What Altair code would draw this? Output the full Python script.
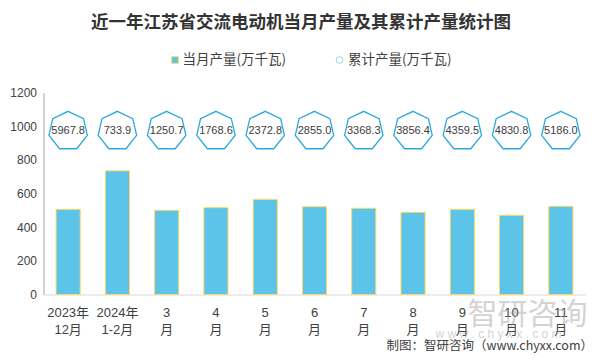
import altair as alt
import pandas as pd

# ---- data ----
categories = ["2023年|12月", "2024年|1-2月", "3|月", "4|月", "5|月", "6|月",
              "7|月", "8|月", "9|月", "10|月", "11|月"]
monthly = [506.0, 734.5, 500.2, 516.0, 565.0, 521.5, 512.5, 488.0, 506.0, 470.5, 524.0]
cumulative = [5967.8, 733.9, 1250.7, 1768.6, 2372.8, 2855.0, 3368.3, 3856.4,
              4359.5, 4830.8, 5186.0]
legend_labels = ["当月产量(万千瓦)", "累计产量(万千瓦)"]
title_text = ["近一年江苏省交流电动机当月产量及其累计产量统计图"]
footer_text = ["制图：智研咨询（www.chyxx.com）"]
watermark_big = ["智研咨询"]
watermark_small = ["w w w . c h y x x . c o m"]
y_ticks = [0, 200, 400, 600, 800, 1000, 1200]

FONT = "Liberation Sans, Noto Sans CJK SC"
CJK = "Noto Sans CJK SC"
TXT = "#404040"
BAR = "#5BC4E8"
BAR_EDGE = "#FFD966"
HEPT_COLOR = "#2AA8E0"

# heptagon with a vertex on top, in unit coordinates
HEPT = ("M0,-1 L0.7818,-0.6235 L0.9749,0.2225 L0.4339,0.901 "
        "L-0.4339,0.901 L-0.9749,0.2225 L-0.7818,-0.6235 Z")

df = pd.DataFrame({"month": categories, "monthly": monthly, "cumulative": cumulative})

x_enc = alt.X(
    "month:N", sort=categories,
    scale=alt.Scale(paddingInner=0.51, paddingOuter=0.255),
    axis=alt.Axis(title=None, labelExpr="split(datum.label, '|')", labelAngle=0,
                  ticks=False, domainColor="#D9D9D9", domainWidth=1,
                  labelFont=FONT, labelFontSize=13, labelColor=TXT,
                  labelLineHeight=17, labelPadding=12, labelBaseline="top"),
)

base = alt.Chart(df)

bars = base.mark_bar(color=BAR, stroke=BAR_EDGE, strokeWidth=1).encode(
    x=x_enc,
    y=alt.Y("monthly:Q", scale=alt.Scale(domain=[0, 1200], nice=False),
            axis=alt.Axis(title=None, values=y_ticks, format="d", grid=False, ticks=False,
                          domainColor="#A6A6A6", labelFont=FONT, labelFontSize=12,
                          labelColor=TXT, labelPadding=7)),
)

hepts = base.mark_point(shape=HEPT, size=1552, filled=False, stroke=HEPT_COLOR,
                        strokeWidth=1.3, opacity=1).encode(
    x=alt.X("month:N", sort=categories),
    y=alt.value(38.5),
)

hept_text = base.mark_text(font=FONT, fontSize=11, color=TXT, baseline="middle").encode(
    x=alt.X("month:N", sort=categories),
    y=alt.value(38),
    text=alt.Text("cumulative:Q", format=".1f"),
)

# ---- legend (manual) ----
leg1 = pd.DataFrame({"label": [legend_labels[0]]})
leg2 = pd.DataFrame({"label": [legend_labels[1]]})
leg_sq = alt.Chart(leg1).mark_point(shape="square", filled=True, size=45, fill=BAR,
                                    stroke=BAR_EDGE, strokeWidth=1, opacity=1).encode(
    x=alt.value(131.5), y=alt.value(-32.5))
leg_sq_t = alt.Chart(leg1).mark_text(font=CJK, fontSize=13.5, color=TXT, align="left",
                                     baseline="middle").encode(
    x=alt.value(139), y=alt.value(-32.5), text="label:N")
leg_ci = alt.Chart(leg2).mark_point(shape="circle", filled=False, size=45,
                                    stroke="#9BD6EE", strokeWidth=1, opacity=1).encode(
    x=alt.value(296), y=alt.value(-32.5))
leg_ci_t = alt.Chart(leg2).mark_text(font=CJK, fontSize=13.5, color=TXT, align="left",
                                     baseline="middle").encode(
    x=alt.value(304.5), y=alt.value(-32.5), text="label:N")

# ---- title / footer / watermark ----
title = alt.Chart(pd.DataFrame({"t": title_text})).mark_text(
    font=CJK, fontSize=17.5, fontWeight="bold", color="#333333", baseline="middle"
).encode(x=alt.value(257.5), y=alt.value(-69.5), text="t:N")

footer = alt.Chart(pd.DataFrame({"t": footer_text})).mark_text(
    font=CJK, fontSize=12.5, color=TXT, align="right", baseline="middle"
).encode(x=alt.value(549.5), y=alt.value(253.5), text="t:N")

wm_big = alt.Chart(pd.DataFrame({"t": watermark_big})).mark_text(
    font=CJK, fontSize=30, color="#A0A0A0", opacity=0.45, align="left", baseline="middle"
).encode(x=alt.value(424), y=alt.value(222), text="t:N")

wm_small = alt.Chart(pd.DataFrame({"t": watermark_small})).mark_text(
    font=FONT, fontSize=12, color="#A0A0A0", opacity=0.45, align="left", baseline="middle"
).encode(x=alt.value(392), y=alt.value(241), text="t:N")

chart = alt.layer(
    bars, hepts, hept_text, leg_sq, leg_sq_t, leg_ci, leg_ci_t,
    title, wm_big, wm_small, footer,
).properties(
    width=542, height=202,
    autosize=alt.AutoSizeParams(type="none"),
    padding={"left": 35.5, "top": 84.5, "right": 9.5, "bottom": 59.5},
    background="white",
).configure_view(stroke=None)

chart.save("out.html", embed_options={"renderer": "svg", "actions": False})
